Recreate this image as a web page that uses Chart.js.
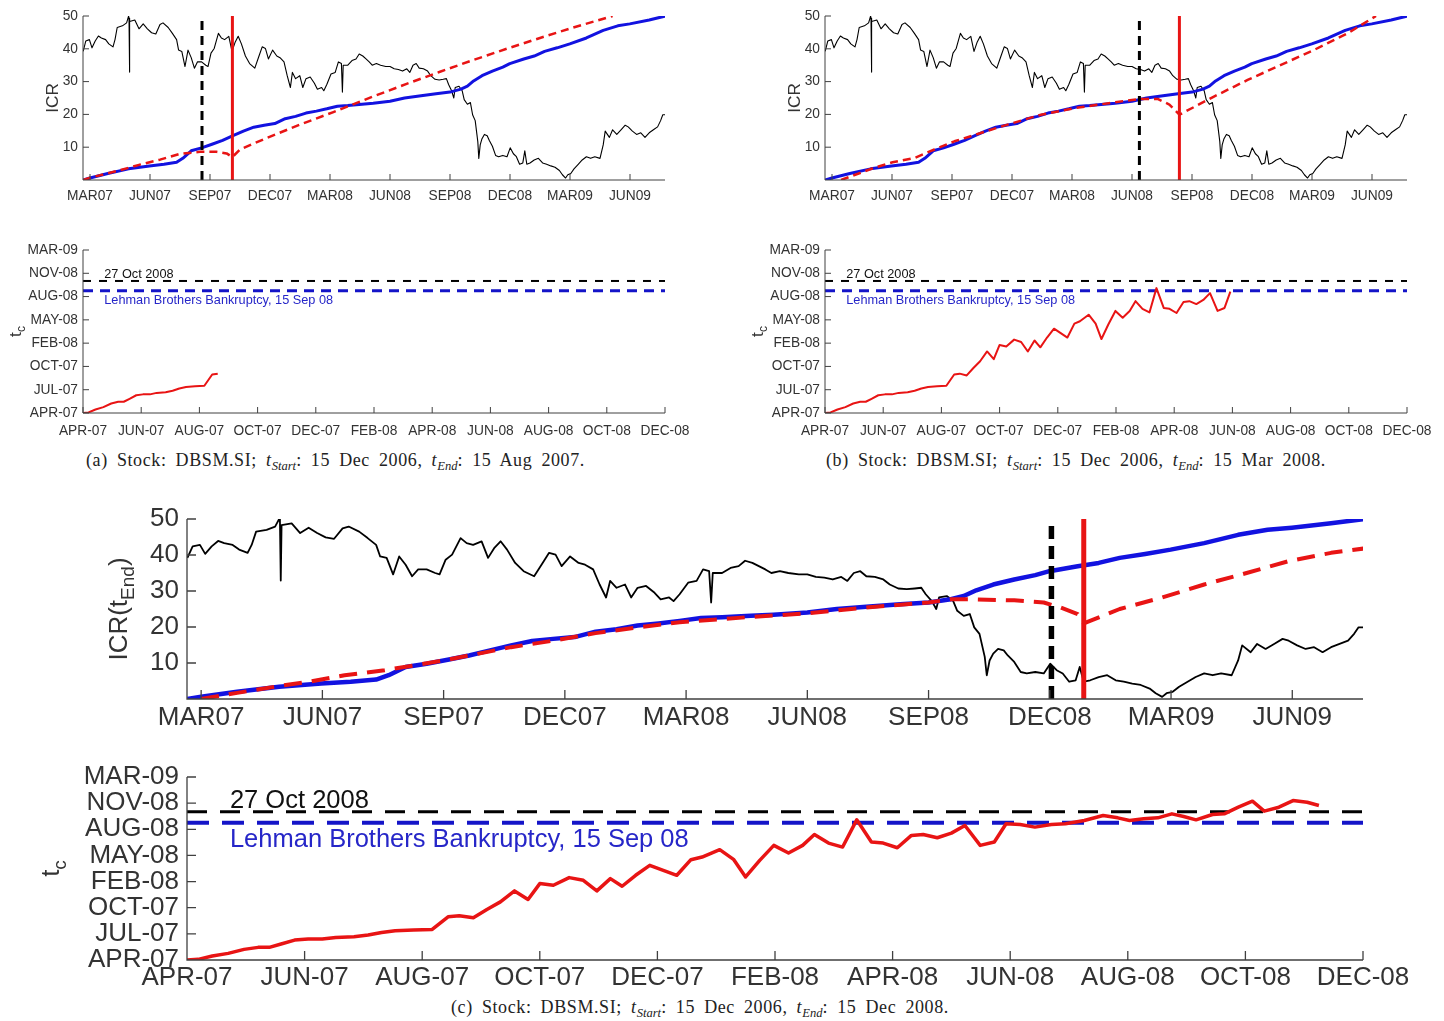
<!DOCTYPE html>
<html>
<head>
<meta charset="utf-8">
<title>DBSM.SI – ICR and critical time estimates</title>
<script src="https://cdn.jsdelivr.net/npm/chart.js@4.4.1/dist/chart.umd.min.js"></script>
<style>
  html, body { margin: 0; padding: 0; background: #fff; }
  body { position: relative; width: 1444px; height: 1021px; overflow: hidden; }
  canvas { position: absolute; }
  .cap { position: absolute; white-space: nowrap; color: #222; line-height: 1;
         font-family: "Liberation Serif", "Times New Roman", serif;
         font-size: 18px; letter-spacing: 0.6px; word-spacing: 4px; }
  .cap sub { font-size: 70%; vertical-align: -0.32em; line-height: 0; letter-spacing: 0; }
</style>
</head>
<body>
<canvas id="icrA"></canvas>
<canvas id="icrB"></canvas>
<canvas id="tcA"></canvas>
<canvas id="tcB"></canvas>
<canvas id="icrC"></canvas>
<canvas id="tcC"></canvas>
<div class="cap" style="left:86px;top:451px">(a) Stock: DBSM.SI; <i>t</i><sub><i>Start</i></sub>: 15 Dec 2006, <i>t</i><sub><i>End</i></sub>: 15 Aug 2007.</div>
<div class="cap" style="left:826px;top:451px">(b) Stock: DBSM.SI; <i>t</i><sub><i>Start</i></sub>: 15 Dec 2006, <i>t</i><sub><i>End</i></sub>: 15 Mar 2008.</div>
<div class="cap" style="left:451px;top:998px">(c) Stock: DBSM.SI; <i>t</i><sub><i>Start</i></sub>: 15 Dec 2006, <i>t</i><sub><i>End</i></sub>: 15 Dec 2008.</div>
<script>
// ---------- ICR panels: x = months after 1 Mar 2007 ----------
const icrMonthTicks  = [0, 3, 6, 9, 12, 15, 18, 21, 24, 27];
const icrMonthLabels = ['MAR07','JUN07','SEP07','DEC07','MAR08','JUN08','SEP08','DEC08','MAR09','JUN09'];
const icrValueTicks  = [10, 20, 30, 40, 50];
const icrMonthRange  = [-0.35, 28.75];
const icrValueRange  = [0, 50];

// share price, rescaled onto the ICR axis  [month, level]
const priceSeries = [
  [-0.34,39.2],[-0.21,42.4],[-0.03,42.8],[0.10,40.3],[0.26,42.4],[0.42,43.9],[0.57,43.3],[0.78,42.8],
  [0.94,41.5],[1.15,40.6],[1.25,42.8],[1.36,46.5],[1.62,47.0],[1.83,47.9],[1.93,50.0],[1.95,49.3],
  [1.97,32.9],[1.99,48.3],[2.24,48.8],[2.45,46.1],[2.66,47.6],[2.87,46.1],[3.08,44.9],[3.29,44.5],
  [3.50,47.4],[3.65,47.9],[3.91,46.5],[4.12,44.7],[4.33,42.8],[4.43,39.6],[4.59,39.2],[4.75,34.6],
  [4.90,39.6],[5.06,37.3],[5.22,34.1],[5.37,36.0],[5.58,36.0],[5.79,35.0],[5.90,34.6],[6.05,38.7],
  [6.21,40.1],[6.42,44.7],[6.57,43.3],[6.73,42.8],[6.94,43.8],[7.10,39.2],[7.25,41.9],[7.41,43.8],
  [7.57,41.5],[7.77,37.8],[7.98,35.5],[8.24,34.1],[8.45,37.8],[8.61,40.6],[8.77,40.1],[8.92,36.9],
  [9.13,39.6],[9.34,37.8],[9.50,37.3],[9.70,36.0],[9.86,31.8],[10.02,28.2],[10.12,32.8],[10.28,30.9],
  [10.49,31.8],[10.64,28.2],[10.80,30.9],[11.01,31.4],[11.22,29.5],[11.37,27.7],[11.58,28.2],[11.69,27.2],
  [11.84,29.1],[12.05,32.3],[12.26,32.8],[12.42,36.0],[12.57,35.5],[12.62,26.8],[12.66,35.0],[12.89,35.0],
  [13.10,36.4],[13.30,36.9],[13.46,38.4],[13.64,37.8],[13.80,36.9],[13.96,36.0],[14.11,35.0],[14.32,35.5],
  [14.53,35.0],[14.79,34.6],[15.00,34.6],[15.21,33.9],[15.42,33.7],[15.63,33.2],[15.84,33.9],[15.99,32.8],
  [16.15,35.0],[16.31,35.5],[16.46,34.1],[16.67,33.9],[16.88,33.2],[17.04,31.8],[17.25,30.7],[17.46,30.5],
  [17.66,30.7],[17.82,30.9],[17.93,29.1],[18.08,27.2],[18.19,25.0],[18.26,28.2],[18.45,28.6],[18.61,27.2],
  [18.71,24.5],[18.87,23.1],[19.02,23.6],[19.13,19.9],[19.26,18.1],[19.39,11.7],[19.44,6.6],[19.51,10.7],
  [19.60,12.6],[19.72,13.9],[19.86,13.5],[19.96,12.1],[20.12,10.3],[20.28,7.5],[20.43,7.1],[20.64,7.5],
  [20.85,7.1],[21.01,9.8],[21.17,8.0],[21.32,7.1],[21.48,4.8],[21.64,5.2],[21.74,8.9],[21.84,4.8],
  [22.00,5.2],[22.21,6.1],[22.42,6.6],[22.63,5.2],[22.83,4.8],[23.04,4.3],[23.25,3.9],[23.47,2.9],
  [23.62,1.6],[23.78,0.6],[23.89,1.6],[24.04,2.0],[24.20,3.4],[24.41,4.8],[24.61,6.1],[24.82,7.1],
  [25.03,6.6],[25.24,7.1],[25.50,6.6],[25.66,10.7],[25.76,14.9],[25.97,13.0],[26.13,15.3],[26.34,13.9],
  [26.55,15.3],[26.76,16.7],[26.91,16.2],[27.12,14.9],[27.33,13.9],[27.54,14.4],[27.75,13.0],[27.96,14.4],
  [28.17,15.3],[28.38,16.2],[28.53,18.1],[28.64,19.9],[28.77,19.9]
];

// cumulative ICR  [month, ICR]
const cumulativeICR = [
  [-0.34,0],[0,0.6],[0.89,2.0],[1.93,3.4],[2.97,4.3],[3.70,4.8],[4.33,5.4],[4.64,6.6],[5.06,8.9],
  [5.58,9.8],[6.10,10.9],[6.63,12.1],[7.15,13.5],[7.67,14.9],[8.19,16.1],[8.71,16.7],[9.24,17.2],
  [9.76,18.7],[10.28,19.4],[10.80,20.4],[11.32,21.0],[11.84,21.7],[12.37,22.5],[12.89,22.7],[13.60,23.1],
  [14.16,23.4],[15.00,24.0],[15.73,25.0],[16.46,25.6],[17.30,26.3],[18.00,26.8],[18.55,27.7],[18.87,28.6],
  [19.18,30.2],[19.60,31.8],[20.12,33.2],[20.64,34.4],[20.99,35.5],[21.69,36.9],[22.21,37.8],[22.73,39.2],
  [23.36,40.3],[23.99,41.5],[24.82,43.3],[25.66,45.6],[26.39,47.0],[26.99,47.6],[27.96,48.8],[28.77,50.0]
];

// fitted ICR for each estimation window  [month, ICR]
const fitWindowA = [
  [-0.35,0],[0,0.7],[1.33,2.7],[2.5,4.7],[3.5,6.2],[4.5,8.0],[5.5,8.6],[6.33,8.6],[6.83,8.1],[7.12,7.0],
  [7.5,9.3],[8.83,12.8],[10.5,16.9],[12.17,20.7],[14.17,25.5],[15.83,29.3],[17.5,33.0],[19.17,36.6],
  [20.83,40.0],[22.5,43.3],[24.17,46.5],[26.13,50.0]
];
const fitWindowB = [
  [0.45,0],[2.1,3.7],[3.03,5.4],[4.12,6.7],[5.12,9.3],[6.12,11.8],[8.78,16.9],[10.45,19.9],[12.12,21.9],
  [13.37,23.0],[14.12,23.7],[15.37,24.7],[16.28,24.7],[16.87,23.0],[17.37,19.9],[19.12,25.5],[20.78,30.5],
  [22.45,35.1],[24.12,39.7],[25.78,44.7],[27.2,50.0]
];
const fitWindowC = [
  [0,0],[0.89,1.7],[1.93,3.6],[2.66,4.8],[3.55,6.6],[4.54,8.0],[5.37,9.5],[6.10,10.9],[7.67,14.4],
  [8.71,16.2],[9.76,18.3],[10.80,19.9],[11.84,21.3],[13.60,22.8],[15.00,23.8],[16.46,25.4],[18.00,26.8],
  [18.55,27.7],[19.08,27.7],[20.12,27.4],[20.85,26.8],[21.27,25.4],[21.69,23.6],[21.84,21.0],[22.73,25.0],
  [23.78,28.2],[24.82,31.8],[25.87,35.0],[26.91,38.3],[27.96,40.6],[28.77,41.8]
];
// window end (black dashed) and estimated critical time (red) per panel, in months
const windowEndMonths = [5.6, 15.37, 21.04];
const criticalMonths  = [7.12, 17.37, 21.84];

// ---------- t_c panels: x = months after 1 Apr 2007, y = days after 1 Apr 2007 ----------
const tcMonthTicks = [0, 2, 4, 6, 8, 10, 12, 14, 16, 18, 20];
const tcMonthLabels = ['APR-07','JUN-07','AUG-07','OCT-07','DEC-07','FEB-08','APR-08','JUN-08','AUG-08','OCT-08','DEC-08'];
const tcDayTicks = [8, 108, 208, 308, 408, 508, 608, 708];
const tcDayLabels = ['APR-07','JUL-07','OCT-07','FEB-08','MAY-08','AUG-08','NOV-08','MAR-09'];

// estimated critical time  [month, day]
const criticalTimeSeries = [
  [0,8],[0.19,10.5],[0.43,23.2],[0.70,33.4],[0.97,48.7],[1.21,56.3],[1.40,56.3],[1.60,69.0],[1.83,84.2],
  [2.06,88.0],[2.30,88.0],[2.53,94.4],[2.84,96.9],[3.08,103.3],[3.31,113.5],[3.54,119.8],[3.85,122.4],
  [4.17,124.9],[4.44,173.2],[4.63,177.0],[4.87,169.4],[5.10,201.1],[5.33,230.4],[5.57,272.3],[5.80,239.3],
  [6.00,300.2],[6.23,293.9],[6.50,323.1],[6.74,312.9],[6.97,272.3],[7.20,319.3],[7.40,290.1],[7.63,332.0],
  [7.87,370.1],[8.10,351.1],[8.33,332.0],[8.57,391.7],[8.76,401.9],[9.06,430.0],[9.30,391.7],[9.50,325.7],
  [9.74,389.2],[9.98,446.4],[10.23,417.1],[10.47,446.4],[10.67,488.3],[10.91,455.3],[11.15,440.0],
  [11.39,544.2],[11.64,459.1],[11.84,455.3],[12.08,437.5],[12.32,484.5],[12.52,488.3],[12.76,475.6],
  [13.00,493.4],[13.23,522.6],[13.49,446.4],[13.73,459.1],[13.93,529.0],[14.17,526.4],[14.42,516.3],
  [14.70,526.4],[14.94,529.0],[15.26,541.7],[15.58,560.7],[15.83,551.8],[16.03,541.7],[16.27,548.0],
  [16.51,551.8],[16.75,567.1],[16.95,556.9],[17.16,544.2],[17.44,564.5],[17.64,567.1],[17.88,592.5],
  [18.12,615.4],[18.32,577.3],[18.57,592.5],[18.81,617.9],[19.05,611.6],[19.25,598.9]
];
// last month shown in each t_c panel
const tcPanelEndMonths = [4.63, 13.93, 19.25];

// reference events (days after 1 Apr 2007)
const eventDays   = [575, 533];
const eventLabels = ['27 Oct 2008', 'Lehman Brothers Bankruptcy, 15 Sep 08'];
const tcRange = [0, 20];
const dayRange = [8, 708];

// ---------- drawing ----------
function fontAvailable(name) {
  const ctx = document.createElement('canvas').getContext('2d');
  const probe = 'MAR07 Lehman Brothers 0123';
  ctx.font = '40px monospace';
  const base = ctx.measureText(probe).width;
  ctx.font = '40px "' + name + '", monospace';
  return Math.abs(ctx.measureText(probe).width - base) > 0.5;
}
const SANS = '"Liberation Sans", Arial, Helvetica, sans-serif';
const hasNarrow = fontAvailable('Liberation Sans Narrow');
const NARROW = hasNarrow ? '"Liberation Sans Narrow", ' + SANS : SANS;
const nk = hasNarrow ? 1 : 0.86;

const BLACK = '#000000', BLUE = '#1212e0', RED = '#e81414', AXIS = '#404040', TEXT = '#333333';

const smallStyle = {
  family: NARROW, tick: 16 * nk, note: 14.8 * nk, title: 20 * nk,
  axisWidth: 1, tickLen: 6, yPad: 5, xLabelCenter: { icr: 16.5, tc: 18 },
  price: 1.1, cum: 3, fit: 2.5, fitDash: [8, 5], end: 3, endDash: [9, 6], crit: 3,
  tc: 2, evBlack: 2, evBlackDash: [8, 8], evBlue: 3, evBlueDash: [10, 7], noteGap: 3,
  icrTitleX: 53, tcTitleX: 16
};
const bigStyle = {
  family: SANS, tick: 26, note: 25.5, title: 26,
  axisWidth: 1.3, tickLen: 9, yPad: 8, xLabelCenter: { icr: 19, tc: 18 },
  price: 1.8, cum: 4.5, fit: 4, fitDash: [18, 10], end: 5.5, endDash: [13, 7], crit: 5,
  tc: 3.5, evBlack: 3, evBlackDash: [20, 13], evBlue: 4, evBlueDash: [22, 13], noteGap: 4,
  icrTitleX: 120, tcTitleX: 52
};

const matlabAxes = {
  id: 'matlabAxes',
  afterDatasetsDraw(chart, args, o) {
    const { ctx, chartArea: a, scales: { x, y } } = chart;
    ctx.save();
    ctx.strokeStyle = AXIS;
    ctx.lineWidth = o.width;
    ctx.beginPath();
    ctx.moveTo(a.left, a.top);
    ctx.lineTo(a.left, a.bottom);
    ctx.lineTo(a.right, a.bottom);
    x.ticks.forEach(t => {
      const p = x.getPixelForValue(t.value);
      ctx.moveTo(p, a.bottom); ctx.lineTo(p, a.bottom - o.len);
    });
    y.ticks.forEach(t => {
      const p = y.getPixelForValue(t.value);
      ctx.moveTo(a.left, p); ctx.lineTo(a.left + o.len, p);
    });
    ctx.stroke();
    ctx.restore();
  }
};

// rotated y-axis title with an optional subscript
const sideTitle = {
  id: 'sideTitle',
  afterDraw(chart, args, o) {
    const { ctx, chartArea: a } = chart;
    const mainF = o.size + 'px ' + o.family;
    const subF = Math.round(o.size * 0.72) + 'px ' + o.family;
    ctx.save();
    ctx.translate(o.x, (a.top + a.bottom) / 2);
    ctx.rotate(-Math.PI / 2);
    ctx.fillStyle = TEXT;
    ctx.textBaseline = 'middle';
    ctx.textAlign = 'left';
    ctx.font = mainF; const w1 = ctx.measureText(o.text).width;
    const w3 = o.tail ? ctx.measureText(o.tail).width : 0;
    ctx.font = subF; const w2 = o.sub ? ctx.measureText(o.sub).width : 0;
    let cx = -(w1 + w2 + w3) / 2;
    ctx.font = mainF; ctx.fillText(o.text, cx, 0); cx += w1;
    if (o.sub) { ctx.font = subF; ctx.fillText(o.sub, cx, o.size * 0.32); cx += w2; }
    if (o.tail) { ctx.font = mainF; ctx.fillText(o.tail, cx, 0); }
    ctx.restore();
  }
};

// labels for the two reference dates in the t_c panels
const eventNotes = {
  id: 'eventNotes',
  afterDatasetsDraw(chart, args, o) {
    const { ctx, scales: { x, y } } = chart;
    const px = x.getPixelForValue(o.atMonth);
    ctx.save();
    ctx.font = o.size + 'px ' + o.family;
    ctx.textAlign = 'left';
    ctx.fillStyle = '#111111';
    ctx.textBaseline = 'alphabetic';
    ctx.fillText(eventLabels[0], px, y.getPixelForValue(eventDays[0]) - o.gap);
    ctx.fillStyle = '#2626c8';
    ctx.textBaseline = 'top';
    ctx.fillText(eventLabels[1], px, y.getPixelForValue(eventDays[1]) + o.gap);
    ctx.restore();
  }
};

function series(pairs, color, width, dash, order) {
  return {
    data: pairs.map(([x, y]) => ({ x, y })),
    borderColor: color, borderWidth: width, borderDash: dash,
    pointRadius: 0, pointHoverRadius: 0, fill: false, tension: 0, order,
    borderCapStyle: 'butt', borderJoinStyle: 'round'
  };
}
const verticalAt = m => [[m, icrValueRange[0]], [m, icrValueRange[1]]];
const horizontalAt = d => [[tcRange[0], d], [tcRange[1], d]];

function placeCanvas(id, rect) {
  const el = document.getElementById(id);
  el.width = rect.w; el.height = rect.h;
  el.style.left = rect.x + 'px'; el.style.top = rect.y + 'px';
  el.style.width = rect.w + 'px'; el.style.height = rect.h + 'px';
  return el;
}

function axisPair(st, rect, area, xs, ys, labelCenter) {
  const yWidth = area.left - rect.x;
  const xHeight = rect.y + rect.h - area.bottom;
  const lh = st.tick * 1.2;
  return {
    x: {
      type: 'linear', min: xs.range[0], max: xs.range[1],
      grid: { display: false, drawTicks: false }, border: { display: false },
      afterBuildTicks: s => { s.ticks = xs.ticks.map(v => ({ value: v })); },
      ticks: { autoSkip: false, maxRotation: 0, minRotation: 0, color: TEXT,
               font: { family: st.family, size: st.tick }, padding: labelCenter - lh / 2,
               callback: v => xs.labels[xs.ticks.indexOf(v)] },
      afterFit: s => { s.height = xHeight; s.paddingLeft = 0; s.paddingRight = 0; }
    },
    y: {
      type: 'linear', min: ys.range[0], max: ys.range[1],
      grid: { display: false, drawTicks: false }, border: { display: false },
      afterBuildTicks: s => { s.ticks = ys.ticks.map(v => ({ value: v })); },
      ticks: { autoSkip: false, color: TEXT, font: { family: st.family, size: st.tick },
               padding: st.yPad, callback: v => ys.labels[ys.ticks.indexOf(v)] },
      afterFit: s => { s.width = yWidth; s.paddingTop = 0; s.paddingBottom = 0; }
    }
  };
}

function baseOptions(rect, area, st, scales, extra) {
  return {
    responsive: false, animation: false, devicePixelRatio: 1,
    layout: { padding: { left: 0, bottom: 0, top: area.top - rect.y, right: rect.x + rect.w - area.right } },
    plugins: Object.assign({ legend: { display: false }, tooltip: { enabled: false },
                             matlabAxes: { width: st.axisWidth, len: st.tickLen } }, extra),
    scales
  };
}

function icrPanel(id, rect, area, st, fit, endMonth, critMonth) {
  const el = placeCanvas(id, rect);
  const scales = axisPair(st, rect, area,
    { range: icrMonthRange, ticks: icrMonthTicks, labels: icrMonthLabels },
    { range: icrValueRange, ticks: icrValueTicks, labels: icrValueTicks.map(String) },
    st.xLabelCenter.icr);
  const title = st === bigStyle
    ? { x: st.icrTitleX, text: 'ICR(t', sub: 'End', tail: ')', size: st.title, family: st.family }
    : { x: st.icrTitleX, text: 'ICR', size: st.title, family: st.family };
  return new Chart(el, {
    type: 'line',
    data: { datasets: [
      series(verticalAt(critMonth), RED, st.crit, [], 0),
      series(verticalAt(endMonth), BLACK, st.end, st.endDash, 1),
      series(fit, RED, st.fit, st.fitDash, 2),
      series(cumulativeICR, BLUE, st.cum, [], 3),
      series(priceSeries, BLACK, st.price, [], 4)
    ] },
    options: baseOptions(rect, area, st, scales, { sideTitle: title }),
    plugins: [matlabAxes, sideTitle]
  });
}

function tcPanel(id, rect, area, st, endMonth) {
  const el = placeCanvas(id, rect);
  const scales = axisPair(st, rect, area,
    { range: tcRange, ticks: tcMonthTicks, labels: tcMonthLabels },
    { range: dayRange, ticks: tcDayTicks, labels: tcDayLabels },
    st.xLabelCenter.tc);
  const shown = criticalTimeSeries.filter(([m]) => m <= endMonth + 1e-9);
  return new Chart(el, {
    type: 'line',
    data: { datasets: [
      series(shown, RED, st.tc, [], 0),
      series(horizontalAt(eventDays[1]), '#1414c8', st.evBlue, st.evBlueDash, 1),
      series(horizontalAt(eventDays[0]), BLACK, st.evBlack, st.evBlackDash, 2)
    ] },
    options: baseOptions(rect, area, st, scales, {
      sideTitle: { x: st.tcTitleX, text: 't', sub: 'c', size: st.title, family: st.family },
      eventNotes: { atMonth: 0.73, size: st.note, family: st.family, gap: st.noteGap }
    }),
    plugins: [matlabAxes, sideTitle, eventNotes]
  });
}

icrPanel('icrA', { x: 0, y: 0, w: 712, h: 215 }, { left: 83, top: 16, right: 665, bottom: 180 },
         smallStyle, fitWindowA, windowEndMonths[0], criticalMonths[0]);
icrPanel('icrB', { x: 742, y: 0, w: 702, h: 215 }, { left: 825, top: 16, right: 1407, bottom: 180 },
         smallStyle, fitWindowB, windowEndMonths[1], criticalMonths[1]);
tcPanel('tcA', { x: 0, y: 228, w: 712, h: 215 }, { left: 83, top: 250, right: 665, bottom: 413 },
        smallStyle, tcPanelEndMonths[0]);
tcPanel('tcB', { x: 742, y: 228, w: 702, h: 215 }, { left: 825, top: 250, right: 1407, bottom: 413 },
        smallStyle, tcPanelEndMonths[1]);
icrPanel('icrC', { x: 0, y: 500, w: 1444, h: 245 }, { left: 187, top: 519, right: 1363, bottom: 699 },
         bigStyle, fitWindowC, windowEndMonths[2], criticalMonths[2]);
tcPanel('tcC', { x: 0, y: 757, w: 1444, h: 240 }, { left: 187, top: 777, right: 1363, bottom: 960 },
        bigStyle, tcPanelEndMonths[2]);
</script>
</body>
</html>
